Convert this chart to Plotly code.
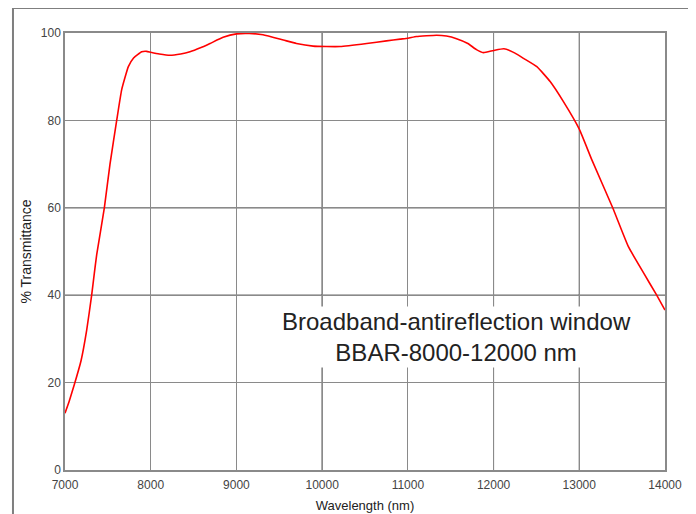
import plotly.graph_objects as go

wavelength_nm = [7000, 7050, 7108, 7187, 7253, 7311, 7342, 7370, 7459, 7525, 7603, 7661,
                 7739, 7800, 7895, 7953, 8000, 8100, 8225, 8350, 8458, 8580, 8692, 8845,
                 9000, 9150, 9310, 9547, 9700, 9895, 10050, 10210, 10520, 10750, 10910,
                 11000, 11100, 11335, 11450, 11568, 11700, 11800, 11880, 12000, 12120,
                 12250, 12350, 12505, 12660, 12815, 13000, 13148, 13390, 13573, 13750,
                 13903, 14000]
transmittance = [13.0, 15.8, 19.5, 25.0, 32.0, 40.0, 45.0, 49.3, 60.0, 70.0, 80.0, 87.0,
                 92.3, 94.3, 95.7, 95.8, 95.6, 95.2, 94.9, 95.2, 95.7, 96.6, 97.6, 99.0,
                 99.8, 99.9, 99.6, 98.4, 97.6, 97.0, 96.9, 96.9, 97.6, 98.2, 98.6,
                 98.8, 99.2, 99.5, 99.3, 98.7, 97.6, 96.2, 95.5, 96.0, 96.4,
                 95.4, 94.2, 92.3, 88.9, 84.3, 78.0, 70.9, 60.0, 51.1, 45.1,
                 40.0, 36.6]

x_ticks = [7000, 8000, 9000, 10000, 11000, 12000, 13000, 14000]
y_ticks = [0, 20, 40, 60, 80, 100]
dark_x_grid = [10000, 12000, 13000]
dark_y_grid = [40, 60]
label_lines = ["Broadband-antireflection window", "BBAR-8000-12000 nm"]

fig = go.Figure()
fig.add_trace(go.Scatter(x=wavelength_nm, y=transmittance, mode="lines",
                         line=dict(color="#ff0000", width=1.6, shape="spline", smoothing=0.4),
                         showlegend=False, hoverinfo="skip"))

shapes = []
for xv in dark_x_grid:
    shapes.append(dict(type="line", xref="x", yref="y", x0=xv, x1=xv, y0=0, y1=100,
                       line=dict(color="#222222", width=1), layer="below"))
for yv in dark_y_grid:
    shapes.append(dict(type="line", xref="x", yref="y", x0=7000, x1=14000, y0=yv, y1=yv,
                       line=dict(color="#111111", width=1), layer="below"))
# outer frame
shapes.append(dict(type="path", xref="paper", yref="paper",
                   path="M -0.0867,-0.2 L -0.0867,1.0572 L 1.0417,1.0572 L 1.0417,-0.2",
                   line=dict(color="#7f7f7f", width=2)))
fig.update_layout(shapes=shapes)

fig.add_annotation(x=11573, y=30.5, xref="x", yref="y",
                   text="<br>".join(label_lines), showarrow=False,
                   font=dict(family="Liberation Sans, Arial", size=24, color="#222222"),
                   bgcolor="white", borderpad=1, align="center")

fig.update_layout(
    width=688, height=506,
    margin=dict(l=57, r=31, t=25, b=44, autoexpand=False),
    paper_bgcolor="white", plot_bgcolor="white",
    font=dict(family="Liberation Sans, Arial", size=12, color="#444444"),
    xaxis=dict(range=[7000, 14000], tickvals=x_ticks, ticktext=[str(v) for v in x_ticks],
               showgrid=True, gridcolor="#8a8a8a", gridwidth=1,
               showline=True, linecolor="#8a8a8a", linewidth=1.5, mirror=True,
               zeroline=False, ticks="", ticklen=0, ticklabelstandoff=3, automargin=False,
               title=dict(text="Wavelength (nm)", font=dict(size=13, color="#222222"), standoff=10)),
    yaxis=dict(range=[0, 100], tickvals=y_ticks, ticktext=[str(v) for v in y_ticks],
               showgrid=True, gridcolor="#8a8a8a", gridwidth=1,
               showline=True, linecolor="#8a8a8a", linewidth=1.5, mirror=True,
               zeroline=False, ticks="", ticklen=0, automargin=False,
               title=dict(text="% Transmittance", font=dict(size=14, color="#222222"), standoff=6)),
)

fig.write_html("out.html")
